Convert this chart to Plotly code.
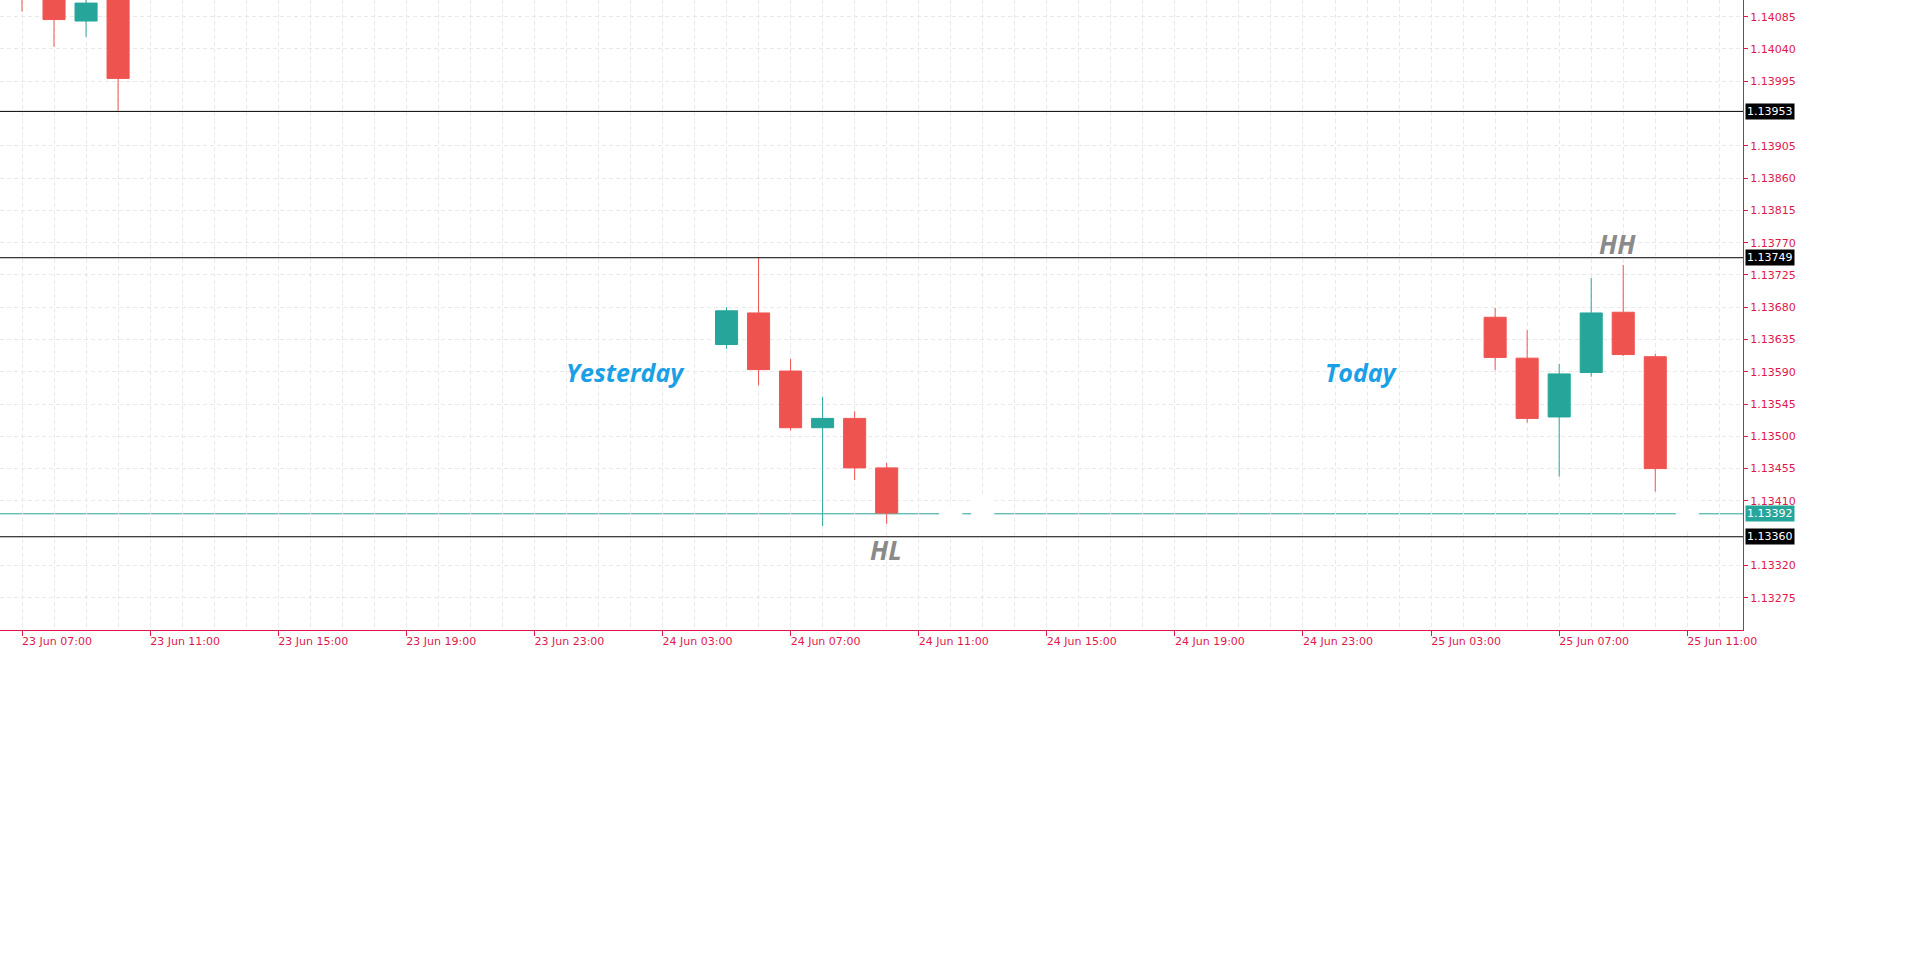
import plotly.graph_objects as go

# hourly candles (EURUSD-like), open / high / low / close
times = [
    "2025-06-23 07:00", "2025-06-23 08:00", "2025-06-23 09:00", "2025-06-23 10:00",
    "2025-06-24 05:00", "2025-06-24 06:00", "2025-06-24 07:00",
    "2025-06-24 08:00", "2025-06-24 09:00", "2025-06-24 10:00",
    "2025-06-25 05:00", "2025-06-25 06:00", "2025-06-25 07:00",
    "2025-06-25 08:00", "2025-06-25 09:00", "2025-06-25 10:00",
]
opens = [1.14160, 1.14125, 1.14079, 1.14112,
         1.13628, 1.13672, 1.13591, 1.13512, 1.13525, 1.13456,
         1.13666, 1.13609, 1.13527, 1.13589, 1.13673, 1.13611]
highs = [1.14185, 1.14140, 1.14115, 1.14125,
         1.13680, 1.13750, 1.13608, 1.13555, 1.13535, 1.13463,
         1.13679, 1.13648, 1.13601, 1.13721, 1.13739, 1.13615]
lows = [1.14092, 1.14043, 1.14057, 1.13954,
        1.13622, 1.13571, 1.13508, 1.13375, 1.13439, 1.13378,
        1.13592, 1.13519, 1.13444, 1.13583, 1.13612, 1.13423]
closes = [1.14125, 1.14081, 1.14104, 1.13999,
          1.13675, 1.13593, 1.13512, 1.13525, 1.13456, 1.13393,
          1.13610, 1.13525, 1.13587, 1.13672, 1.13614, 1.13455]

# bars drawn in background colour (they only blank out the price line)
hidden_times = ["2025-06-24 12:00", "2025-06-24 13:00", "2025-06-25 11:00"]
hidden_open = [1.13404, 1.13418, 1.13410]
hidden_close = [1.13362, 1.13355, 1.13370]

# horizontal levels
levels = [1.13953, 1.13749, 1.13360]
current_price = 1.13392

y_ticks = [1.13275, 1.13320, 1.13410, 1.13455, 1.13500, 1.13545, 1.13590,
           1.13635, 1.13680, 1.13725, 1.13770, 1.13815, 1.13860, 1.13905,
           1.13995, 1.14040, 1.14085]

# chart notes
day_labels = ["Yesterday", "Today"]
day_label_x = ["2025-06-24 01:50", "2025-06-25 00:50"]
day_label_y = [1.13590, 1.13590]
swing_labels = ["HL", "HH"]
swing_label_x = ["2025-06-24 09:58", "2025-06-25 08:50"]
swing_label_y = [1.13341, 1.13768]

UP = "#26a69a"
DOWN = "#ef5350"
AXIS = "#e0184a"
GRID = "#e9e9e9"

fig = go.Figure()

fig.add_trace(go.Candlestick(
    x=times, open=opens, high=highs, low=lows, close=closes,
    increasing=dict(line=dict(color=UP, width=1), fillcolor=UP),
    decreasing=dict(line=dict(color=DOWN, width=1), fillcolor=DOWN),
    hoverinfo="skip", showlegend=False,
))

fig.add_trace(go.Candlestick(
    x=hidden_times, open=hidden_open, high=hidden_open, low=hidden_close, close=hidden_close,
    increasing=dict(line=dict(color="white", width=1), fillcolor="white"),
    decreasing=dict(line=dict(color="white", width=1), fillcolor="white"),
    hoverinfo="skip", showlegend=False,
))

# level lines
for lv in levels:
    fig.add_hline(y=lv, line=dict(color="black", width=1), layer="above")
fig.add_hline(y=current_price, line=dict(color=UP, width=1), layer="below")

# price boxes on the right axis
for lv in levels:
    fig.add_annotation(x=1, xref="paper", y=lv, yref="y", xanchor="left", xshift=2,
                       text=f"{lv:.5f}", showarrow=False, bgcolor="black", borderpad=1,
                       font=dict(family="DejaVu Sans", size=11, color="white"))
fig.add_annotation(x=1, xref="paper", y=current_price, yref="y", xanchor="left", xshift=2,
                   text=f"{current_price:.5f}", showarrow=False, bgcolor=UP, borderpad=1,
                   font=dict(family="DejaVu Sans", size=11, color="white"))

for txt, tx, ty in zip(day_labels, day_label_x, day_label_y):
    fig.add_annotation(x=tx, y=ty, text=f"<b><i>{txt}</i></b>", showarrow=False,
                       font=dict(family="Open Sans", size=25, color="#1aa0e6"))
for txt, tx, ty in zip(swing_labels, swing_label_x, swing_label_y):
    fig.add_annotation(x=tx, y=ty, text=f"<b><i>{txt}</i></b>", showarrow=False,
                       font=dict(family="Open Sans", size=26, color="#8a8a8a"))

fig.update_layout(
    width=1918, height=963,
    margin=dict(l=0, r=175, t=0, b=333),
    paper_bgcolor="white", plot_bgcolor="white",
    showlegend=False,
    boxgap=0.17, boxgroupgap=0.17,
    xaxis=dict(
        range=["2025-06-23 06:18:46", "2025-06-25 12:44:24"],
        rangeslider=dict(visible=False),
        type="date",
        tick0="2025-06-23 07:00", dtick=4 * 3600000,
        tickformat="%d %b %H:%M",
        ticks="outside", ticklen=5, tickcolor=AXIS,
        ticklabelshift=35, ticklabelstandoff=-4,
        tickfont=dict(family="DejaVu Sans", size=11, color=AXIS),
        showline=True, linecolor=AXIS, linewidth=1,
        showgrid=True, gridcolor=GRID, griddash="4px,3px", gridwidth=1,
        minor=dict(dtick=3600000, showgrid=True, gridcolor=GRID, griddash="4px,3px"),
        zeroline=False,
    ),
    yaxis=dict(
        range=[1.13230, 1.141083],
        side="right",
        tickmode="array", tickvals=y_ticks,
        ticktext=[f"{v:.5f}" for v in y_ticks],
        ticks="outside", ticklen=4, tickcolor=AXIS,
        tickfont=dict(family="DejaVu Sans", size=11, color=AXIS),
        showline=True, linecolor=AXIS, linewidth=1,
        showgrid=True, gridcolor=GRID, griddash="4px,3px", gridwidth=1,
        zeroline=False,
    ),
)

fig.write_html("out.html", config={"displayModeBar": False},
               post_script="document.body.style.margin='0';")
